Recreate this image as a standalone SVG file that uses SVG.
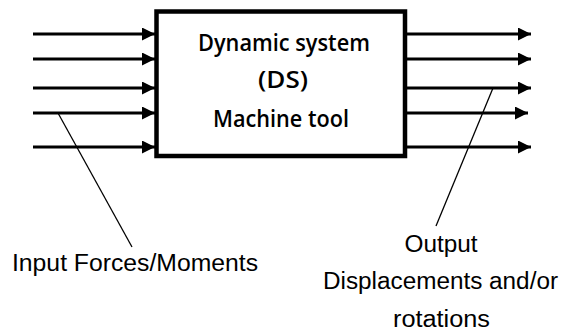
<svg xmlns="http://www.w3.org/2000/svg" width="564" height="336" viewBox="0 0 564 336">
<defs>
<marker id="ah" markerUnits="userSpaceOnUse" markerWidth="14" markerHeight="14" refX="13" refY="6.5" orient="auto">
<path d="M0,0 L13,6.5 L0,13 Z" fill="#000"/>
</marker>
<style>
.arr{stroke:#000;stroke-width:3;fill:none;marker-end:url(#ah)}
.lead{stroke:#000;stroke-width:1.3;fill:none}
.box{fill:#fff;stroke:#000;stroke-width:4.5}
.bt{font-family:"Open Sans","Liberation Sans",sans-serif;font-weight:600;font-size:23px;fill:#000;text-anchor:middle}
.lt{font-family:"Liberation Sans",Arial,sans-serif;font-size:23px;fill:#000}
</style>
</defs>
<rect width="564" height="336" fill="#fff"/>
<g id="connectors">
<line class="arr" x1="33" y1="34" x2="155" y2="34"/>
<line class="arr" x1="33" y1="59" x2="155" y2="59"/>
<line class="arr" x1="33" y1="88" x2="155" y2="88"/>
<line class="arr" x1="33" y1="113" x2="155" y2="113"/>
<line class="arr" x1="33" y1="147" x2="155" y2="147"/>
<line class="arr" x1="407" y1="34" x2="531" y2="34"/>
<line class="arr" x1="407" y1="59" x2="531" y2="59"/>
<line class="arr" x1="407" y1="88" x2="531" y2="88"/>
<line class="arr" x1="407" y1="113" x2="528" y2="113"/>
<line class="arr" x1="407" y1="147" x2="531" y2="147"/>
<line class="lead" x1="58" y1="113" x2="132" y2="247"/>
<line class="lead" x1="493" y1="88" x2="436" y2="226"/>
</g>
<g id="ds">
<rect class="box" x="156.5" y="11.5" width="248.5" height="144.5"/>
<text class="bt" x="284" y="51" textLength="172" lengthAdjust="spacingAndGlyphs">Dynamic system</text>
<text class="bt" x="283" y="88" textLength="50" lengthAdjust="spacingAndGlyphs">(DS)</text>
<text class="bt" x="281" y="127" textLength="136" lengthAdjust="spacingAndGlyphs">Machine tool</text>
</g>
<g id="input-label">
<text class="lt" x="12" y="271" textLength="246" lengthAdjust="spacingAndGlyphs">Input Forces/Moments</text>
</g>
<g id="output-label">
<text class="lt" x="441" y="252" text-anchor="middle" textLength="73" lengthAdjust="spacingAndGlyphs">Output</text>
<text class="lt" x="440.5" y="289" text-anchor="middle" textLength="235" lengthAdjust="spacingAndGlyphs">Displacements and/or</text>
<text class="lt" x="441.5" y="327" text-anchor="middle" textLength="97" lengthAdjust="spacingAndGlyphs">rotations</text>
</g>
</svg>
